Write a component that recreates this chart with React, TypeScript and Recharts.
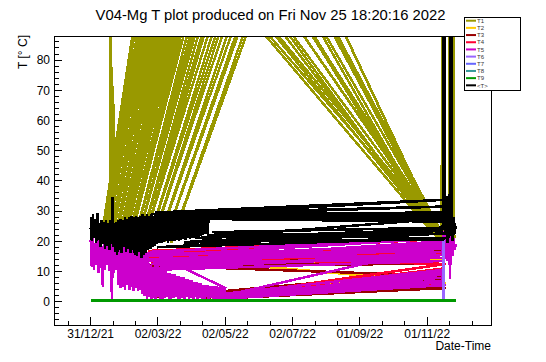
import { Line, LineChart, XAxis, YAxis } from "recharts";

type Pair = [number, number];

// x = days since 31/12/21, y = temperature [°C]
const xTickDays = [
  -20.33, 0, 20.33, 40.67, 61, 81.33, 101.67, 122, 142.33, 162.67, 183, 203.33,
  223.67, 244, 264.33, 284.67, 305, 325.33, 345.67,
];
const xLabelDays = [0, 61, 122, 183, 244, 305];
const xLabels = ["31/12/21", "02/03/22", "02/05/22", "02/07/22", "01/09/22", "01/11/22"];
const yTicks = [
  -6, -4, -2, 0, 2, 4, 6, 8, 10, 12, 14, 16, 18, 20, 22, 24, 26, 28, 30, 32, 34,
  36, 38, 40, 42, 44, 46, 48, 50, 52, 54, 56, 58, 60, 62, 64, 66, 68, 70, 72, 74,
  76, 78, 80, 82, 84, 86,
];

const t1: Pair[] = [
  [0, 22], [2, 26], [4, 21], [6, 27], [8, 20], [10, 25], [12, 22], [14, 26], [16, 21],
  [18, 24], [18.3, 200], [18.8, 23], [20.4, 71.4], [20.9, 22], [23, 26], [26, 21],
  [29, 27], [32, 22], [35, 26], [38, 21], [41, 27], [44, 22], [47, 26], [50, 20],
  [53, 25], [56, 21], [60, 24],
  [9, 19.5], [320, 760], [11, 20], [321, 700], [13, 19], [322, 680], [15, 20.5],
  [320, 640], [17, 19.5], [321, 620], [19, 20], [322, 590], [21, 19], [320, 560],
  [23, 20.5], [321, 540], [25, 19.5], [322, 520], [27, 20], [320, 500], [29, 19.5],
  [321, 480], [31, 20], [322, 460], [33, 19], [320, 440], [36, 20.5], [321, 420],
  [39, 19.5], [322, 400], [42, 20], [320, 380], [45, 19.5], [321, 360], [48, 20],
  [322, 340], [52, 19.5], [320, 320], [56, 20], [321, 305], [61, 19.5], [322, 290],
  [67, 20], [320, 280], [73, 19.5], [321, 270],
  [5, 170], [316, 21], [8, 160], [320, 21.5], [3, 155], [312, 22], [7, 175],
  [319.5, 21], [10, 185], [317, 22.5], [6, 200], [320, 19.5], [2, 205], [314, 21.5],
  [12, 215], [319.5, 21], [11, 230], [318, 23], [4, 240], [319, 20], [9, 260],
  [320, 19],
  [318.2, 20], [318.5, 300], [319.3, 300], [319.8, 21], [322, 22], [324.8, 20],
  [325.2, 300], [326, 300], [326.4, 23], [327.7, 22], [328, 300], [328.8, 300],
  [329.2, 21], [330.5, 22],
];

const t2: Pair[] = [
  [120, 1.5], [320, 8], [128, 1.2], [321, 8.8], [116, 2.8], [322, 6.2], [52, 15],
  [320.5, 17.8], [56, 12], [321, 14],
];

const t3: Pair[] = [
  [60, 1.5], [320, 10], [110, 0.8], [321, 5], [125, 1.5], [319.5, 6.5], [115, 1],
  [322, 4.5], [130, 2], [320, 7.5], [100, 1.2], [321, 8.5], [50, 12], [320.5, 12.5],
  [45, 15], [321, 17],
];

const t4: Pair[] = [
  [52, 16.8], [320, 20.8], [48, 15.5], [321, 16], [55, 13], [319.5, 19], [50, 14.5],
  [322, 12.5], [118, 1.8], [320, 9.5], [126, 1.3], [321.5, 6], [122, 2.2], [320.5, 11],
];

const t5: Pair[] = [
  [0, 20.5], [1, 11.5], [2, 21], [3, 10.5], [4, 19.5], [5, 12], [6, 21], [7, 9.5],
  [8, 20], [9, 11], [10, 18.5], [11, 5], [12, 20.5], [13, 10.5], [14, 19], [15, 12],
  [16, 21], [17, 10], [18, 19.5], [19.3, 0.5], [20, 20], [21, 9.5], [22, 18.5],
  [23, 10.5], [24, 19.5], [25, 5.5], [26, 20], [27, 4.5], [28, 19], [29, 5],
  [30, 20.5], [31, 4], [32, 18.5], [33, 5.5], [34, 19.5], [35, 4], [36, 18], [37, 5],
  [38, 19], [39, 3.5], [40, 17.5], [41, 4.5], [42, 18], [43, 3.5], [44, 17], [45, 4],
  [46, 17.5], [47, 2.5], [48, 16.5], [49, 2], [50, 16], [51, 1], [52, 15.5], [53, 1.5],
  [54, 12], [55, 1], [56, 11.5], [57, 1.2], [58, 11], [59, 0.8], [60, 11], [61, 1.5],
  [62, 10.5], [63, 1], [64, 10.5], [65, 0.8], [66, 10], [67, 1.2], [68, 10], [69, 1.5],
  [70, 9.5], [71, 1], [72, 9.5], [73, 0.8], [74, 9], [75, 1.2], [76, 9], [77, 1.5],
  [78, 8.5], [79, 1], [80, 8.5], [81, 0.8], [82, 8], [83, 1.2], [84, 8], [85, 1],
  [86, 7.5], [87, 1.5], [88, 7.5], [89, 1], [90, 7], [91, 1.2], [92, 7], [93, 0.8],
  [94, 6.5], [95, 1.5], [96, 6.5], [97, 1], [98, 6], [99, 1.2], [100, 6], [101, 0.8],
  [102, 5.5], [103, 1], [104, 5.5], [105, 1.5], [106, 5.5], [107, 1], [108, 5.2],
  [109, 1.2], [110, 5], [111, 1], [112, 5], [113, 1.5], [114, 5], [115, 1],
  [116, 4.8], [117, 1.2], [118, 4.8], [119, 1], [120, 4.6], [121, 1.3], [122, 4.5],
  [54, 16.5], [320, 21], [50, 15], [321, 19], [55, 12.5], [319.5, 17.5], [48, 14],
  [322, 15.5], [56, 11], [320.5, 20], [52, 13.5], [321.5, 13.5], [54, 10.5],
  [319, 16.5], [50, 16], [322, 14.5], [57, 12], [320, 18.5],
  [115, 1.5], [320, 9], [125, 1], [321, 6.5], [118, 2.5], [319, 10.5], [130, 1.2],
  [322, 5.5], [120, 2], [320.5, 8], [128, 2.8], [321.5, 7], [112, 1], [319.5, 9.8],
  [319, 17], [319.5, 23.5], [320, 16], [320.8, 22], [321.5, 14], [322, 21], [323, 13.5],
  [323.6, 20], [324.3, 16.5], [325, 22], [325.7, 7.5], [326.3, 20.5], [327, 17],
  [327.6, 23], [328.2, 15], [329, 21], [330, 17], [330.8, 19],
];

const t6: Pair[] = [
  [0, 0.4], [319.4, 0.4], [319.6, 20.5], [319.8, 0.4], [331, 0.4],
];
const t7: Pair[] = [[0, 0.4], [331, 0.4]];
const t8: Pair[] = [[0, 0.4], [331, 0.4]];
const t9: Pair[] = [[0, 0.4], [331, 0.4]];

const tAvg: Pair[] = [
  [0, 24], [0.5, 28], [1, 20], [2, 29], [3, 21], [4, 27.5], [5, 19.5], [6, 29.5],
  [7, 20.5], [8, 26], [9, 18], [10, 27], [11, 19], [12, 26.5], [13, 17.5], [14, 27],
  [15, 18.5], [16, 26], [17, 17], [18, 27], [19, 19], [19.6, 34.8], [20.2, 18],
  [21, 26], [22, 16.5], [23, 26.5], [24, 15.5], [25, 27], [26, 17], [27, 27.5],
  [28, 16], [29, 27], [30, 18], [31, 28], [32, 16.5], [33, 27.5], [34, 17.5], [35, 28],
  [36, 16], [37, 28.5], [38, 17], [39, 28], [40, 15.5], [41, 28.5], [42, 15], [43, 28],
  [44, 16.5], [45, 28.5], [46, 14.5], [47, 29], [48, 15.5], [49, 28.5], [50, 16],
  [51, 29], [52, 17], [53, 28.5], [54, 17.5], [55, 29], [56, 18], [57, 28.5],
  [58, 18.5], [59, 29], [60, 19], [61, 29], [62, 19.5], [63, 29.2], [64, 19.5],
  [65, 29], [66, 19.8], [67, 29.3], [68, 20], [69, 29], [70, 19.5], [71, 29.3],
  [72, 20], [73, 29], [74, 20.2], [75, 29.3], [76, 20], [77, 29], [78, 20.5],
  [79, 29.3], [80, 20.2], [81, 29], [82, 20.5], [83, 29.3], [84, 20.8], [85, 29],
  [86, 20.5], [87, 29.3], [88, 21], [89, 29], [90, 20.8], [91, 29.3], [92, 21],
  [93, 29], [94, 21.2], [95, 29.3], [96, 21.5], [97, 29], [98, 21.5], [99, 29.2],
  [100, 21.8], [101, 29], [102, 22], [103, 29], [104, 22.3], [105, 28.8], [106, 22.5],
  [107, 28.5],
  [58, 29.5], [319, 33.7], [62, 28.5], [320.5, 31.5], [55, 29], [321, 29.5],
  [70, 28.5], [319.5, 28], [66, 29.2], [322, 27], [80, 28.5], [320, 26.5], [75, 27.5],
  [321.5, 28.5], [100, 28.5], [319, 27.5],
  [95, 21], [320, 24], [85, 19.5], [321, 22.5], [105, 22], [322, 21], [60, 18],
  [319.5, 23.5], [90, 20], [320.5, 20.5], [110, 23], [321, 24.5],
  [319, 24], [319.7, 32], [320, 150], [320.4, 150], [320.8, 38], [321.5, 22],
  [322.5, 35], [323.2, 19.5], [324, 30], [325, 21], [325.6, 40], [326.3, 150],
  [326.8, 150], [327.3, 36], [328, 20], [328.8, 28], [329.5, 22], [330.2, 26],
  [330.8, 24],
];

const series = [
  { name: "T1", color: "#999900", data: t1 },
  { name: "T2", color: "#ffcc00", data: t2 },
  { name: "T3", color: "#990000", data: t3 },
  { name: "T4", color: "#ff0033", data: t4 },
  { name: "T5", color: "#cc00cc", data: t5 },
  { name: "T6", color: "#9966ff", data: t6 },
  { name: "T7", color: "#6666ff", data: t7 },
  { name: "T8", color: "#339999", data: t8 },
  { name: "T9", color: "#009900", data: t9 },
  { name: "<T>", color: "#000000", data: tAvg },
];

const font = '"Liberation Sans", Arial, Helvetica, sans-serif';

function DateTick(props: any) {
  const { x, y, payload } = props;
  const i = xLabelDays.indexOf(payload.value);
  return (
    <g>
      <line
        x1={x}
        x2={x}
        y1={y}
        y2={y - (i >= 0 ? 8.5 : 4.5)}
        stroke="#000"
        shapeRendering="crispEdges"
      />
      {i >= 0 ? (
        <text x={x} y={y + 12.5} textAnchor="middle" fontSize={12} fontFamily={font} fill="#000">
          {xLabels[i]}
        </text>
      ) : null}
    </g>
  );
}

function TempTick(props: any) {
  const { x, y, payload } = props;
  const major = payload.value % 10 === 0;
  return (
    <g>
      <line
        x1={x}
        x2={x + (major ? 7.5 : 4)}
        y1={y}
        y2={y}
        stroke="#000"
        shapeRendering="crispEdges"
      />
      {major ? (
        <text x={x - 4.5} y={y + 4.3} textAnchor="end" fontSize={12} fontFamily={font} fill="#000">
          {payload.value}
        </text>
      ) : null}
    </g>
  );
}

export default function App() {
  return (
    <div style={{ position: "absolute", left: 0, top: 0, width: 546, height: 362, background: "#fff" }}>
      <LineChart
        width={546}
        height={362}
        margin={{ top: 36.5, right: 54.5, bottom: 0.5, left: 0.5 }}
      >
        <XAxis
          dataKey="d"
          type="number"
          domain={[-32.8, 363.3]}
          allowDataOverflow
          ticks={xTickDays}
          interval={0}
          height={36}
          tickSize={0}
          tickMargin={0}
          tickLine={false}
          axisLine={false}
          tick={DateTick}
        />
        <YAxis
          type="number"
          domain={[-7.9, 87.8]}
          allowDataOverflow
          ticks={yTicks}
          interval={0}
          width={54}
          tickSize={0}
          tickMargin={0}
          tickLine={false}
          axisLine={false}
          tick={TempTick}
        />
        {series.map((s) => (
          <Line
            key={s.name}
            name={s.name}
            data={s.data.map(([d, v]) => ({ d, v }))}
            dataKey="v"
            type="linear"
            stroke={s.color}
            strokeWidth={2.5}
            dot={false}
            activeDot={false}
            isAnimationActive={false}
            shapeRendering="crispEdges"
          />
        ))}
      </LineChart>

      <svg
        width={546}
        height={362}
        style={{ position: "absolute", left: 0, top: 0, pointerEvents: "none" }}
        fontFamily={font}
      >
        <rect x={54.5} y={36.5} width={437} height={289} fill="none" stroke="#000" />
        <text x={270.5} y={20} textAnchor="middle" fontSize={14.8} fill="#000">
          V04-Mg T plot produced on Fri Nov 25 18:20:16 2022
        </text>
        <text transform="translate(26.5,35) rotate(-90)" textAnchor="end" fontSize={12} fill="#000">
          T [° C]
        </text>
        <text x={491} y={350} textAnchor="end" fontSize={12} fill="#000">
          Date-Time
        </text>

        <rect x={464.5} y={17.5} width={56} height={73} fill="#fff" stroke="#000" />
        {series.map((s, i) => {
          const cy = 20.7 + i * 7.18;
          return (
            <g key={s.name}>
              <rect x={466} y={cy - 1} width={10} height={2} fill={s.color} />
              <text x={477} y={cy + 2.2} fontSize={6} fill="#333">
                {s.name}
              </text>
            </g>
          );
        })}
      </svg>
    </div>
  );
}
